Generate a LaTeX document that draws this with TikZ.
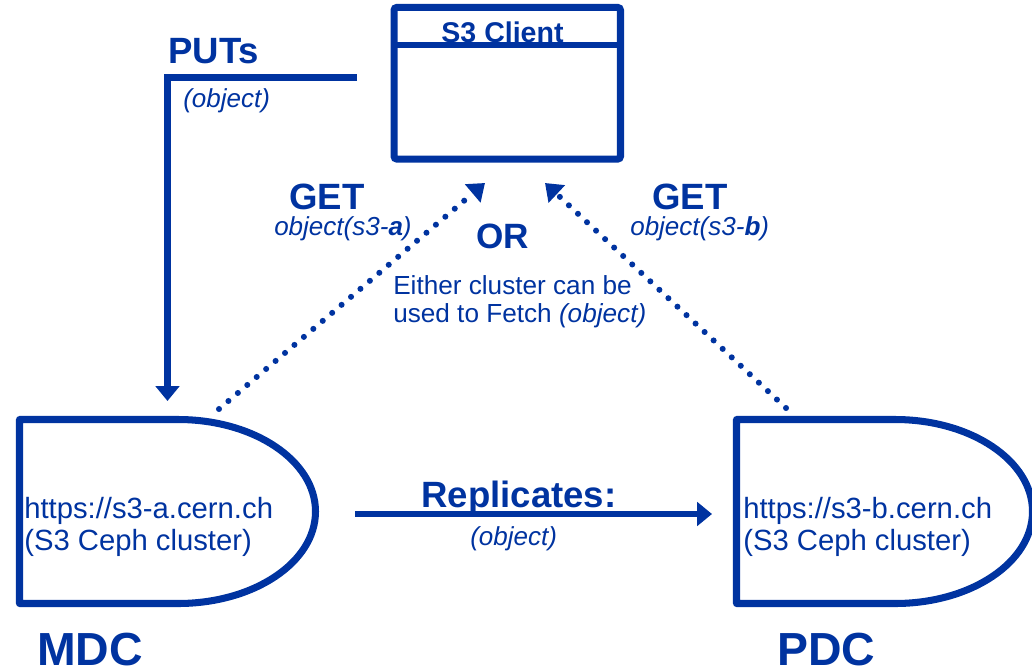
\documentclass[tikz,border=0pt]{standalone}
\usepackage{fontspec}
\setmainfont{Liberation Sans}
\usetikzlibrary{arrows.meta,calc,positioning}
\definecolor{cernblue}{RGB}{0,51,160}
\tikzset{
  clientbox/.style = {draw=cernblue, line width=5pt, rounded corners=2pt,
                      minimum width=5.66cm, minimum height=3.79cm,
                      outer sep=0pt, inner sep=0pt},
  hdr/.style       = {draw=cernblue, line width=3.9pt},
  cluster/.style   = {draw=cernblue, line width=5pt, line join=round},
  putwire/.style   = {draw=cernblue, line width=4.3pt,
                      -{Triangle[length=10.5pt,width=16.5pt]}},
  getwire/.style   = {draw=cernblue, line width=4.3pt, line cap=round,
                      dash pattern=on 0pt off 8.8pt,
                      -{Triangle[length=11.5pt,width=16.5pt]}},
  bigtxt/.style    = {text=cernblue, inner sep=0pt, anchor=base west,
                      font=\fontsize{26}{30}\selectfont\bfseries},
  ortxt/.style     = {bigtxt, font=\fontsize{25}{29}\selectfont\bfseries},
  dctxt/.style     = {bigtxt, font=\fontsize{33}{36}\selectfont\bfseries},
  titletxt/.style  = {text=cernblue, inner sep=0pt, anchor=base,
                      font=\fontsize{20.3}{24}\selectfont\bfseries},
  urltxt/.style    = {text=cernblue, inner sep=0pt, anchor=base west,
                      font=\fontsize{20.8}{24}\selectfont},
  smltxt/.style    = {text=cernblue, inner sep=0pt, anchor=base west,
                      font=\fontsize{18.6}{22}\selectfont},
  objtxt/.style    = {smltxt, font=\fontsize{18.5}{22}\selectfont\itshape},
}

\begin{document}
\begin{tikzpicture}[x=0.025cm,y=-0.025cm]
  \useasboundingbox (0,0) rectangle (1032,671);
  % S3 client
  \node[clientbox] (client) at (507.25,83.25) {};
  \draw[hdr] ($(client.north west)+(0,37.5)$)--($(client.north east)+(0,37.5)$);
  \node[titletxt] (clienttitle) at (502.5,42) {S3 Client};
  % clusters
  \draw[cluster] (19.5,419.5)--(178,419.5)
    arc[start angle=-90,end angle=90,x radius=137.5,y radius=92]
    --(19.5,603.5)--cycle;
  \draw[cluster] (736.5,419.5)--(895,419.5)
    arc[start angle=-90,end angle=90,x radius=137.5,y radius=92]
    --(736.5,603.5)--cycle;
  \node[urltxt] (mdcurl) at (24,518) {https://s3-a.cern.ch};
  \node[urltxt] (mdcname) at (24,550) {(S3 Ceph cluster)};
  \node[urltxt] (pdcurl) at (743,518) {https://s3-b.cern.ch};
  \node[urltxt] (pdcname) at (743,550) {(S3 Ceph cluster)};
  \node[dctxt] (mdc) at (37,665) {MDC};
  \node[dctxt] (pdc) at (777,665) {PDC};
  % connectors
  \coordinate (putstart) at (357,77.5);
  \coordinate (mdcput) at (167.5,401);
  \coordinate (mdcget) at (219,409);
  \coordinate (clientgeta) at (485,183);
  \coordinate (pdcget) at (786,408);
  \coordinate (clientgetb) at (545,183);
  \coordinate (repstart) at (355,514);
  \coordinate (repend) at (712,514);
  \draw[putwire] (putstart)-|(mdcput);
  \draw[getwire] (mdcget)--(clientgeta);
  \draw[getwire] (pdcget)--(clientgetb);
  \draw[putwire] (repstart)--(repend);
  % labels
  \node[bigtxt] (puts) at (168,63) {PUTs};
  \node[objtxt] (putsobj) at (183,107) {(object)};
  \node[bigtxt] (geta) at (289,209) {GET};
  \node[objtxt] (getaobj) at (274,235) {object(s3-\textbf{a})};
  \node[bigtxt] (getb) at (652,209) {GET};
  \node[objtxt] (getbobj) at (630,235) {object(s3-\textbf{b})};
  \node[ortxt] (or) at (476,248) {OR};
  \node[smltxt] (fetcha) at (393,294) {Either cluster can be};
  \node[smltxt] (fetchb) at (393,322) {used to Fetch \textit{(object)}};
  \node[bigtxt] (rep) at (421,507) {Replicates:};
  \node[objtxt] (repobj) at (470,545) {(object)};
\end{tikzpicture}
\end{document}
